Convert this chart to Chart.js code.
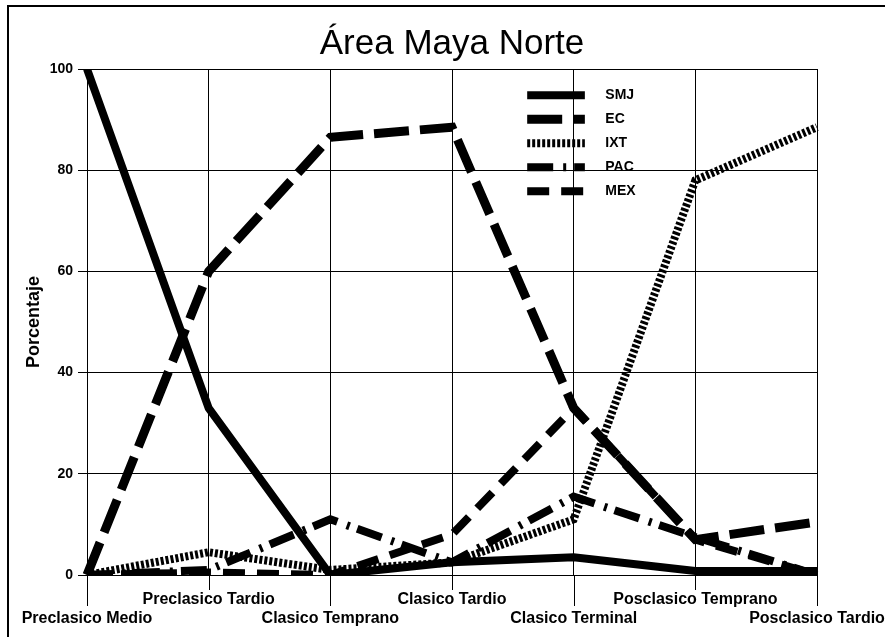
<!DOCTYPE html>
<html>
<head>
<meta charset="utf-8">
<script src="https://cdn.jsdelivr.net/npm/chart.js@4"></script>
<style>
  html, body { margin: 0; padding: 0; background: #fff; overflow: hidden; }
  #wrap { position: relative; width: 885px; height: 637px; }
  #frame { position: absolute; left: 7px; top: 5px; width: 900px; height: 700px;
           border-left: 2px solid #000; border-top: 2px solid #000; }
  canvas { position: absolute; left: 0; top: 0; }
</style>
</head>
<body>
<div id="wrap">
  <div id="frame"></div>
  <canvas id="chart" width="885" height="637"></canvas>
</div>
<script>
// periods on the x axis
const categories = ['Preclasico Medio', 'Preclasico Tardio', 'Clasico Temprano', 'Clasico Tardio',
                    'Clasico Terminal', 'Posclasico Temprano', 'Posclasico Tardio'];

// percentages
const smj = [100, 33, 0, 2.5, 3.5, 0.8, 0.8];
const ec  = [0, 60, 86.5, 88.5, 33, 7, 10.5];
const ixt = [0, 4.5, 1, 2.5, 11, 78, 88.5];
const pac = [0, 1, 11, 2.5, 15.5, 7.5, 0];
const mex = [0, 0.5, 0, 8, 33, 7, 0];

const yTicks = [0, 20, 40, 60, 80, 100];

const FONT = '"Liberation Sans", Arial, Helvetica, sans-serif';

// labels alternate between two rows
const xLabels = categories.map((c, i) => i % 2 ? [c, ''] : ['', c]);

const line = (label, data, width, dash) => ({
    label: label,
    data: data,
    borderColor: '#000',
    backgroundColor: '#000',
    borderWidth: width,
    borderDash: dash,
    borderCapStyle: 'butt',
    pointRadius: 0,
    tension: 0,
    fill: false
});

// long tick marks under the x axis, longer for the lower row
const staggerTicks = {
    id: 'staggerTicks',
    afterDraw(chart) {
        const xs = chart.scales.x;
        const ctx = chart.ctx;
        ctx.save();
        ctx.strokeStyle = '#000';
        ctx.lineWidth = 1;
        categories.forEach((c, i) => {
            const px = Math.round(xs.getPixelForTick(i)) + 0.5;
            const len = i % 2 ? 15 : 31;
            ctx.beginPath();
            ctx.moveTo(px, xs.top);
            ctx.lineTo(px, xs.top + len);
            ctx.stroke();
        });
        ctx.restore();
    }
};

// legend drawn inside the plot, top right
const cornerLegend = {
    id: 'cornerLegend',
    afterDraw(chart) {
        const ctx = chart.ctx;
        const a = chart.chartArea;
        const w = a.right - a.left, h = a.bottom - a.top;
        const x0 = a.left + w * 0.603;
        const x1 = a.left + w * 0.682;
        const xt = a.left + w * 0.710;
        chart.data.datasets.forEach((ds, i) => {
            const y = a.top + h * (0.052 + i * 0.0474);
            ctx.save();
            ctx.strokeStyle = '#000';
            ctx.lineWidth = ds.borderWidth;
            ctx.setLineDash(ds.borderDash || []);
            ctx.beginPath();
            ctx.moveTo(x0, y);
            ctx.lineTo(x1, y);
            ctx.stroke();
            ctx.setLineDash([]);
            ctx.fillStyle = '#000';
            ctx.font = 'bold 14px ' + FONT;
            ctx.textBaseline = 'middle';
            ctx.fillText(ds.label, xt, y);
            ctx.restore();
        });
    }
};

new Chart(document.getElementById('chart').getContext('2d'), {
    type: 'line',
    data: {
        labels: xLabels,
        datasets: [
            line('SMJ', smj, 8, []),
            line('EC', ec, 9, [35, 11]),
            line('IXT', ixt, 8, [3, 2]),
            line('PAC', pac, 8, [26, 10, 3, 8]),
            line('MEX', mex, 8, [22, 12])
        ]
    },
    options: {
        responsive: false,
        animation: false,
        layout: { padding: { left: 10, right: 68, top: 0, bottom: 0 } },
        plugins: {
            legend: { display: false },
            tooltip: { enabled: false },
            title: {
                display: true,
                text: 'Área Maya Norte',
                color: '#000',
                fullSize: false,
                font: { family: FONT, size: 35, weight: 'normal' },
                padding: { top: 23, bottom: 4 }
            }
        },
        scales: {
            x: {
                grid: { color: '#000', lineWidth: 1, drawTicks: false },
                border: { color: '#000', width: 1 },
                ticks: {
                    color: '#000',
                    font: { family: FONT, size: 16, weight: 'bold' },
                    padding: 15,
                    maxRotation: 0,
                    autoSkip: false
                },
                afterFit(s) { s.paddingLeft = 0; s.paddingRight = 0; s.height = 62; }
            },
            y: {
                min: 0,
                max: 100,
                afterBuildTicks(s) { s.ticks = yTicks.map(v => ({ value: v })); },
                grid: { color: '#000', lineWidth: 1, tickLength: 9 },
                border: { color: '#000', width: 1 },
                ticks: {
                    color: '#000',
                    font: { family: FONT, size: 14, weight: 'bold' },
                    padding: 5
                },
                title: {
                    display: true,
                    text: 'Porcentaje',
                    color: '#000',
                    font: { family: FONT, size: 18, weight: 'bold' },
                    padding: { top: 13, bottom: 0 }
                },
                afterFit(s) { s.width = 77; }
            }
        }
    },
    plugins: [staggerTicks, cornerLegend]
});
</script>
</body>
</html>
